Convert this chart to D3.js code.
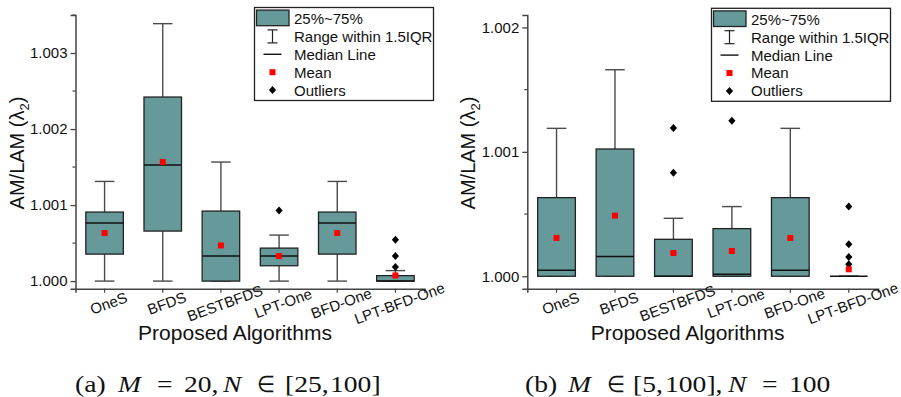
<!DOCTYPE html>
<html>
<head>
<meta charset="utf-8">
<script src="https://cdn.jsdelivr.net/npm/d3@7/dist/d3.min.js"></script>
<style>
  html, body { margin: 0; padding: 0; background: #fff; }
  svg { display: block; }
  .sans { font-family: "Liberation Sans", Arial, sans-serif; }
  .serif { font-family: "Liberation Serif", "Times New Roman", serif; }
</style>
</head>
<body>
<svg id="chart" width="901" height="397"></svg>
<script>
// Algorithms compared in both panels
const categories = ["OneS", "BFDS", "BESTBFDS", "LPT-One", "BFD-One", "LPT-BFD-One"];

// Panel (a): M = 20, N in [25, 100]
const aWhiskerLow  = [1.000000, 1.000000, 1.000000, 1.000000, 1.000000, 1.000000];
const aQ1          = [1.000355, 1.000658, 1.000000, 1.000202, 1.000355, 1.000000];
const aMedian      = [1.000763, 1.001526, 1.000329, 1.000329, 1.000763, 1.000000];
const aQ3          = [1.000908, 1.002421, 1.000921, 1.000434, 1.000908, 1.000072];
const aWhiskerHigh = [1.001311, 1.003386, 1.001566, 1.000605, 1.001311, 1.000138];
const aMean        = [1.000632, 1.001566, 1.000469, 1.000329, 1.000632, 1.000074];
const aOutliers    = [[], [], [], [1.000930], [], [1.000544, 1.000329, 1.000186]];
const aTicks       = [1.000, 1.001, 1.002, 1.003];
const aMinorTicks  = [1.0005, 1.0015, 1.0025, 1.0035];
const aDomain      = [0.9999, 1.0035];

// Panel (b): M in [5, 100], N = 100
const bWhiskerLow  = [1.000000, 1.000000, 1.000000, 1.000000, 1.000000, 1.000000];
const bQ1          = [1.000000, 1.000000, 1.000000, 1.000000, 1.000000, 1.000000];
const bMedian      = [1.000048, 1.000158, 1.000000, 1.000016, 1.000048, 1.000000];
const bQ3          = [1.000632, 1.001023, 1.000297, 1.000383, 1.000632, 1.000000];
const bWhiskerHigh = [1.001189, 1.001660, 1.000466, 1.000560, 1.001189, 1.000000];
const bMean        = [1.000308, 1.000487, 1.000187, 1.000203, 1.000308, 1.000056];
const bOutliers    = [[], [], [1.001191, 1.000833], [1.001250], [], [1.000560, 1.000257, 1.000155, 1.000096]];
const bTicks       = [1.000, 1.001, 1.002];
const bMinorTicks  = [1.0005, 1.0015];
const bDomain      = [0.9999, 1.0021];

const legendItems = ["25%~75%", "Range within 1.5IQR", "Median Line", "Mean", "Outliers"];

const BOX_FILL = "#669999";
const BOX_STROKE = "#222";
const WHISKER = "#4a4a4a";
const AXIS = "#444";

const svg = d3.select("#chart");
svg.append("rect").attr("width", 901).attr("height", 397).attr("fill", "#fff");

function diamondPath(cx, cy, rx, ry) {
  return `M${cx},${cy - ry}L${cx + rx},${cy}L${cx},${cy + ry}L${cx - rx},${cy}Z`;
}

function drawPanel(cfg) {
  const g = svg.append("g");
  const x = d3.scaleBand().domain(categories).range([cfg.left, cfg.right]).paddingInner(0).paddingOuter(0);
  const y = d3.scaleLinear().domain(cfg.domain).range([288.7, 15]);
  const cx = c => x(c) + x.bandwidth() / 2;
  const boxW = x.bandwidth() * 0.645;
  const capW = boxW * 0.52;

  const rows = categories.map((c, i) => ({
    c, lo: cfg.lo[i], q1: cfg.q1[i], med: cfg.med[i], q3: cfg.q3[i], hi: cfg.hi[i], mean: cfg.mean[i], out: cfg.out[i]
  }));

  // whiskers
  const wg = g.append("g").attr("stroke", WHISKER).attr("stroke-width", 1.4).attr("fill", "none");
  rows.forEach(d => {
    wg.append("line").attr("x1", cx(d.c)).attr("x2", cx(d.c)).attr("y1", y(d.hi)).attr("y2", y(d.q3));
    wg.append("line").attr("x1", cx(d.c)).attr("x2", cx(d.c)).attr("y1", y(d.q1)).attr("y2", y(d.lo));
    wg.append("line").attr("x1", cx(d.c) - capW / 2).attr("x2", cx(d.c) + capW / 2).attr("y1", y(d.hi)).attr("y2", y(d.hi));
    wg.append("line").attr("x1", cx(d.c) - capW / 2).attr("x2", cx(d.c) + capW / 2).attr("y1", y(d.lo)).attr("y2", y(d.lo));
  });

  // boxes
  g.append("g").selectAll("rect").data(rows).join("rect")
    .attr("x", d => cx(d.c) - boxW / 2)
    .attr("y", d => y(d.q3))
    .attr("width", boxW)
    .attr("height", d => Math.max(0, y(d.q1) - y(d.q3)))
    .attr("fill", BOX_FILL)
    .attr("stroke", BOX_STROKE)
    .attr("stroke-width", 1.3);

  // medians
  g.append("g").selectAll("line").data(rows).join("line")
    .attr("x1", d => cx(d.c) - boxW / 2).attr("x2", d => cx(d.c) + boxW / 2)
    .attr("y1", d => y(d.med)).attr("y2", d => y(d.med))
    .attr("stroke", "#111").attr("stroke-width", 1.5);

  // outliers
  const og = g.append("g").attr("fill", "#000");
  rows.forEach(d => d.out.forEach(v => {
    og.append("path").attr("d", diamondPath(cx(d.c), y(v), 3.6, 4));
  }));

  // means
  g.append("g").selectAll("rect").data(rows).join("rect")
    .attr("x", d => cx(d.c) - 3).attr("y", d => y(d.mean) - 3)
    .attr("width", 6).attr("height", 6).attr("fill", "#ff0000");

  // y axis
  const yAxis = g.append("g").attr("transform", `translate(${cfg.left},0)`)
    .call(d3.axisLeft(y).tickValues(cfg.ticks).tickFormat(d3.format(".3f")).tickSize(5).tickPadding(3));
  yAxis.select(".domain").attr("stroke", AXIS).attr("stroke-width", 1.5);
  yAxis.selectAll(".tick line").attr("stroke", AXIS).attr("stroke-width", 1.3);
  yAxis.selectAll(".tick text").attr("class", "sans").attr("font-size", 15).attr("fill", "#111");
  g.append("g").selectAll("line").data(cfg.minor).join("line")
    .attr("x1", cfg.left - 3).attr("x2", cfg.left)
    .attr("y1", d => y(d)).attr("y2", d => y(d))
    .attr("stroke", AXIS).attr("stroke-width", 1.2);

  // x axis
  const xAxis = g.append("g").attr("transform", `translate(0,288.7)`)
    .call(d3.axisBottom(x).tickSize(4).tickFormat(""));
  xAxis.select(".domain").attr("stroke", AXIS).attr("stroke-width", 1.5);
  xAxis.selectAll(".tick line").attr("stroke", AXIS).attr("stroke-width", 1.2);
  g.append("g").selectAll("text").data(categories).join("text")
    .attr("class", "sans")
    .attr("font-size", 15)
    .attr("fill", "#111")
    .attr("text-anchor", "middle")
    .attr("dominant-baseline", "central")
    .attr("transform", c => `translate(${cx(c) + 4},303) rotate(-20)`)
    .text(c => c);

  // axis titles
  const yt = g.append("text").attr("class", "sans").attr("font-size", 20).attr("fill", "#111")
    .attr("text-anchor", "middle")
    .attr("transform", `translate(${cfg.left - 52},153) rotate(-90)`);
  yt.append("tspan").text("AM/LAM (λ");
  yt.append("tspan").attr("font-size", 13).attr("dy", 5).text("2");
  yt.append("tspan").attr("dy", -5).text(")");

  g.append("text").attr("class", "sans").attr("font-size", 21).attr("fill", "#111")
    .attr("text-anchor", "middle")
    .attr("x", (cfg.left + cfg.right) / 2 - 15).attr("y", 340)
    .text("Proposed Algorithms");

  // legend
  const lg = g.append("g").attr("transform", `translate(${cfg.legendX},${cfg.legendY})`);
  lg.append("rect").attr("width", 179).attr("height", 93).attr("fill", "#fff")
    .attr("stroke", "#222").attr("stroke-width", 1.3);
  const rowY = i => 11 + i * 17.9;
  lg.append("rect").attr("x", 2).attr("y", 2.6).attr("width", 32.5).attr("height", 15.6)
    .attr("fill", BOX_FILL).attr("stroke", BOX_STROKE).attr("stroke-width", 1.3);
  const sx = 18;
  lg.append("line").attr("x1", sx).attr("x2", sx).attr("y1", rowY(1) - 6.5).attr("y2", rowY(1) + 6.5).attr("stroke", "#222").attr("stroke-width", 1.2);
  lg.append("line").attr("x1", sx - 5).attr("x2", sx + 5).attr("y1", rowY(1) - 6.5).attr("y2", rowY(1) - 6.5).attr("stroke", "#222").attr("stroke-width", 1.2);
  lg.append("line").attr("x1", sx - 5).attr("x2", sx + 5).attr("y1", rowY(1) + 6.5).attr("y2", rowY(1) + 6.5).attr("stroke", "#222").attr("stroke-width", 1.2);
  lg.append("line").attr("x1", sx - 9).attr("x2", sx + 9).attr("y1", rowY(2)).attr("y2", rowY(2)).attr("stroke", "#111").attr("stroke-width", 1.4);
  lg.append("rect").attr("x", sx - 3).attr("y", rowY(3) - 3).attr("width", 6).attr("height", 6).attr("fill", "#ff0000");
  lg.append("path").attr("d", diamondPath(sx, rowY(4), 3.6, 4)).attr("fill", "#000");
  lg.selectAll("text.item").data(legendItems).join("text")
    .attr("class", "sans item")
    .attr("font-size", 15).attr("fill", "#111")
    .attr("x", 39.5).attr("y", (d, i) => rowY(i))
    .attr("dominant-baseline", "central")
    .text(d => d);
}

drawPanel({
  left: 75.5, right: 424.5, domain: aDomain, ticks: aTicks, minor: aMinorTicks,
  lo: aWhiskerLow, q1: aQ1, med: aMedian, q3: aQ3, hi: aWhiskerHigh, mean: aMean, out: aOutliers,
  legendX: 254.5, legendY: 7.5
});
drawPanel({
  left: 527.3, right: 878, domain: bDomain, ticks: bTicks, minor: bMinorTicks,
  lo: bWhiskerLow, q1: bQ1, med: bMedian, q3: bQ3, hi: bWhiskerHigh, mean: bMean, out: bOutliers,
  legendX: 711.5, legendY: 8.3
});

// sub-figure captions, set piece by piece with math-style spacing
function caption(parts) {
  const g = svg.append("g").attr("class", "serif").attr("fill", "#111");
  parts.forEach(p => {
    const t = g.append("text")
      .attr("font-size", 23)
      .attr("transform", `translate(${p.x},391.5) scale(${p.s || 1.2},1)`)
      .text(p.t);
    if (p.i) t.attr("font-style", "italic");
  });
}
caption([
  {x: 75, t: "(a)"}, {x: 118, t: "M", i: true}, {x: 157, t: "="}, {x: 184, t: "20,"},
  {x: 223, t: "N", i: true}, {x: 257, t: "∈", s: 0.9}, {x: 285, t: "[25,"}, {x: 330, t: "100]"}
]);
caption([
  {x: 525, t: "(b)"}, {x: 568, t: "M", i: true}, {x: 607, t: "∈", s: 0.9}, {x: 633, t: "[5,"},
  {x: 665, t: "100],"}, {x: 728, t: "N", i: true}, {x: 762, t: "="}, {x: 789, t: "100"}
]);
</script>
</body>
</html>
